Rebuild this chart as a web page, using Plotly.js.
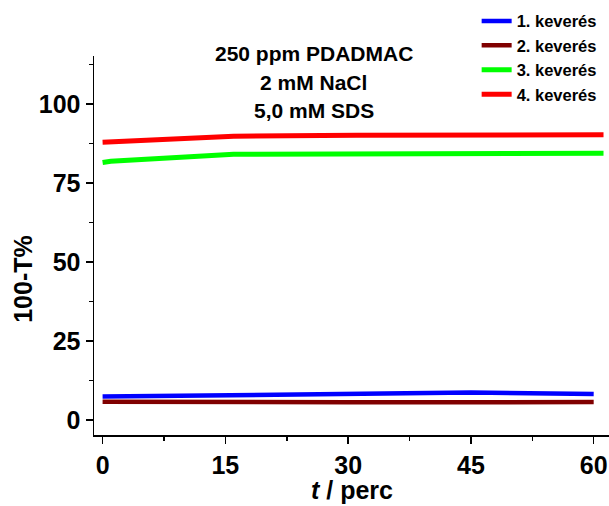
<!DOCTYPE html>
<html>
<head>
<meta charset="utf-8">
<script src="https://cdn.plot.ly/plotly-3.0.1.min.js"></script>
<style>html,body{margin:0;padding:0;background:#fff}#chart{width:609px;height:506px}</style>
</head>
<body>
<div id="chart"></div>
<script>
// ---- data ----
const seriesNames = ["1. keverés", "2. keverés", "3. keverés", "4. keverés"];
const t1 = [0, 15, 30, 45, 60];
const y1 = [7.4, 7.9, 8.5, 8.7, 8.2];
const t2 = [0, 15, 30, 45, 60];
const y2 = [5.8, 5.6, 5.6, 5.6, 5.7];
const t3 = [0, 1, 16, 31, 46, 61.2];
const y3 = [81.5, 81.9, 84.1, 84.2, 84.3, 84.4];
const t4 = [0, 16, 31, 46, 61.2];
const y4 = [87.9, 89.8, 90.1, 90.1, 90.3];
const xTicks = [0, 15, 30, 45, 60];
const yTicks = [0, 25, 50, 75, 100];
const titleLines = ["250 ppm PDADMAC", "2 mM NaCl", "5,0 mM SDS"];
const xTitle = "<i>t</i> / perc";
const yTitle = "100-T%";

const FONT = "Liberation Sans, Arial, Helvetica, sans-serif";
const colors = ["#0000FF", "#800000", "#00FF00", "#FF0000"];
const widths = [4.5, 4.5, 5, 5];
const xs = [t1, t2, t3, t4];
const ys = [y1, y2, y3, y4];

const traces = seriesNames.map((n, i) => ({
  x: xs[i], y: ys[i], name: n, type: "scatter", mode: "lines",
  line: {color: colors[i], width: widths[i]}
}));

const annotations = titleLines.map((s, i) => ({
  text: s, xref: "paper", yref: "paper", x: 0.427, y: [1.006, 0.931, 0.855][i],
  xanchor: "center", yanchor: "middle", showarrow: false,
  font: {family: FONT, size: 21, color: "#000", weight: "bold"}
}));
annotations.push({
  text: xTitle, xref: "paper", yref: "paper", x: 0.5, y: -0.145,
  xanchor: "center", yanchor: "middle", showarrow: false,
  font: {family: FONT, size: 25, color: "#000", weight: "bold"}
});
annotations.push({
  text: yTitle, xref: "paper", yref: "paper", x: -0.138, y: 0.412, textangle: -90,
  xanchor: "center", yanchor: "middle", showarrow: false,
  font: {family: FONT, size: 25, color: "#000", weight: "bold"}
});

const layout = {
  width: 609, height: 506,
  margin: {l: 94, r: 0, t: 56, b: 70.5, pad: 0},
  paper_bgcolor: "#fff", plot_bgcolor: "#fff",
  showlegend: true,
  legend: {
    x: 0.743, y: 1.138, xanchor: "left", yanchor: "top",
    bgcolor: "rgba(0,0,0,0)", borderwidth: 0,
    font: {family: FONT, size: 16.5, color: "#000", weight: "bold"},
    tracegroupgap: 0
  },
  xaxis: {
    range: [-1.05, 61.87], tickvals: xTicks, ticktext: xTicks.map(String),
    showgrid: false, zeroline: false, showline: true, linecolor: "#000", linewidth: 1.5,
    ticks: "outside", ticklen: 7, tickwidth: 1.5, tickcolor: "#000",
    minor: {dtick: 7.5, tick0: 0, ticks: "outside", ticklen: 4, tickwidth: 1.5, tickcolor: "#000", showgrid: false},
    tickfont: {family: FONT, size: 25, color: "#000", weight: "bold"}
  },
  yaxis: {
    range: [-4.75, 115.2], tickvals: yTicks, ticktext: yTicks.map(String),
    showgrid: false, zeroline: false, showline: true, linecolor: "#000", linewidth: 1.5,
    ticks: "outside", ticklen: 7, tickwidth: 1.5, tickcolor: "#000",
    minor: {dtick: 12.5, tick0: 0, ticks: "outside", ticklen: 4, tickwidth: 1.5, tickcolor: "#000", showgrid: false},
    tickfont: {family: FONT, size: 25, color: "#000", weight: "bold"}
  },
  annotations: annotations
};

Plotly.newPlot("chart", traces, layout, {displayModeBar: false, staticPlot: true});
</script>
</body>
</html>
